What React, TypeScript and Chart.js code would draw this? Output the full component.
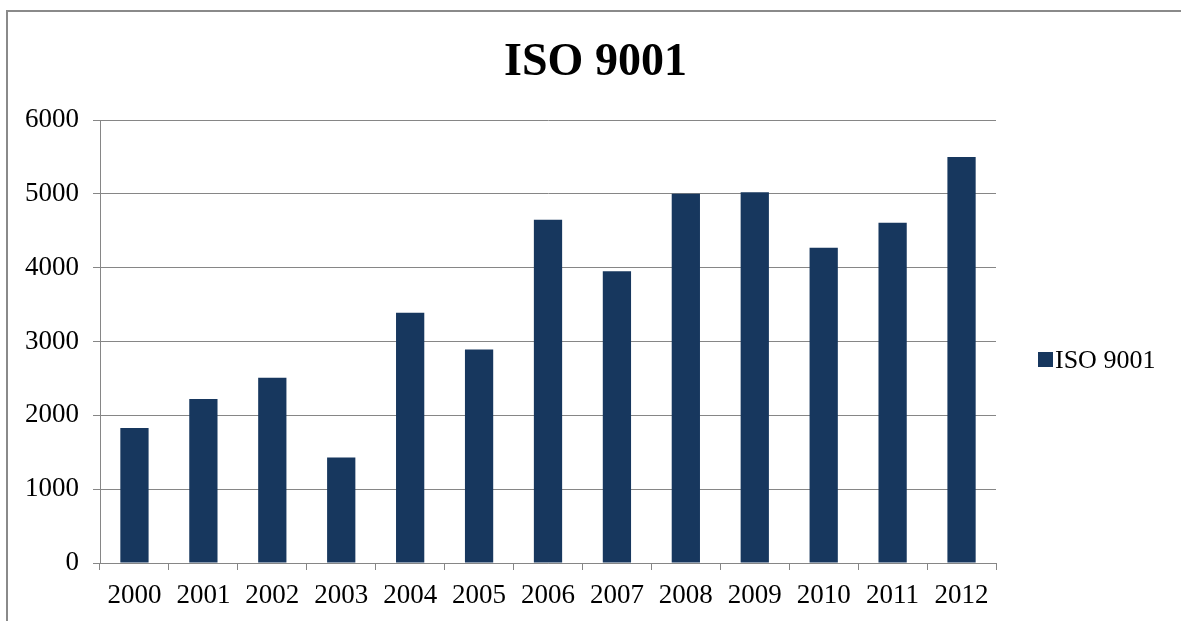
import React, { useEffect, useRef } from "react";
import { Chart, registerables } from "chart.js";

Chart.register(...registerables);

const TITLE = "ISO 9001";
const SERIES_LABEL = "ISO 9001";
const YEARS = ["2000", "2001", "2002", "2003", "2004", "2005", "2006", "2007", "2008", "2009", "2010", "2011", "2012"];
const VALUES = [1830, 2220, 2510, 1430, 3390, 2890, 4650, 3950, 5000, 5020, 4270, 4610, 5500];
const Y_MIN = 0;
const Y_MAX = 6000;
const Y_STEP = 1000;

const BAR_COLOR = "#17375E";
const GRID_COLOR = "#868686";
const FONT = "'Liberation Serif', 'Times New Roman', serif";

const decorPlugin = {
  id: "decor",
  afterDraw(chart: any) {
    const ctx = chart.ctx;
    ctx.save();
    // title
    ctx.fillStyle = "#000";
    ctx.font = `bold 46px ${FONT}`;
    ctx.textAlign = "center";
    ctx.textBaseline = "alphabetic";
    ctx.fillText(TITLE, 595.5, 75);
    // legend
    ctx.fillStyle = BAR_COLOR;
    ctx.fillRect(1038, 352, 15, 15);
    ctx.fillStyle = "#000";
    ctx.font = `26px ${FONT}`;
    ctx.textAlign = "left";
    ctx.textBaseline = "alphabetic";
    ctx.fillText(SERIES_LABEL, 1055, 368);
    ctx.restore();
  },
};

export default function App() {
  const canvasRef = useRef<HTMLCanvasElement>(null);

  useEffect(() => {
    if (!canvasRef.current) return;
    const chart = new Chart(canvasRef.current, {
      type: "bar",
      data: {
        labels: YEARS,
        datasets: [
          {
            label: SERIES_LABEL,
            data: VALUES,
            backgroundColor: BAR_COLOR,
            borderWidth: 0,
            barPercentage: 0.41,
            categoryPercentage: 1,
          },
        ],
      },
      options: {
        responsive: false,
        animation: false,
        devicePixelRatio: 1,
        layout: { padding: { left: 10, right: 185, top: 120, bottom: 0 } },
        plugins: {
          legend: { display: false },
          title: { display: false },
          tooltip: { enabled: false },
        },
        scales: {
          x: {
            grid: {
              display: true,
              offset: true,
              drawOnChartArea: false,
              drawTicks: true,
              tickLength: 7,
              color: GRID_COLOR,
            },
            border: { display: true, color: GRID_COLOR, width: 1 },
            ticks: {
              color: "#000",
              font: { family: FONT, size: 27 },
              padding: 10,
              maxRotation: 0,
              autoSkip: false,
            },
            afterFit(scale: any) {
              scale.height = 58;
            },
          },
          y: {
            min: Y_MIN,
            max: Y_MAX,
            grid: {
              color: GRID_COLOR,
              drawTicks: true,
              tickLength: 7,
            },
            border: { display: true, color: GRID_COLOR, width: 1 },
            ticks: {
              stepSize: Y_STEP,
              color: "#000",
              font: { family: FONT, size: 27 },
              padding: 14,
              callback: (v: any) => String(v),
            },
            afterFit(scale: any) {
              scale.width = 90;
            },
          },
        },
      },
      plugins: [decorPlugin],
    });
    return () => chart.destroy();
  }, []);

  return (
    <div
      style={{
        position: "absolute",
        left: 0,
        top: 0,
        width: 1181,
        height: 621,
        overflow: "hidden",
        background: "#fff",
      }}
    >
      <div
        style={{
          position: "absolute",
          left: 6,
          top: 10,
          width: 1300,
          height: 700,
          border: "2px solid #8a8a8a",
        }}
      />
      <canvas
        ref={canvasRef}
        width={1181}
        height={621}
        style={{ position: "absolute", left: 0, top: 0, width: 1181, height: 621 }}
      />
    </div>
  );
}
